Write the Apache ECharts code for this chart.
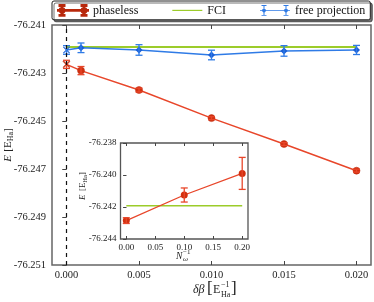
<!DOCTYPE html>
<html><head><meta charset="utf-8">
<script src="https://cdn.jsdelivr.net/npm/echarts@6/dist/echarts.min.js"></script>
<style>html,body{margin:0;padding:0;background:#fff}#c{width:374px;height:302px}</style>
</head><body><div id="c"></div>
<script>
// ---- data ----
var dBeta = [0, 0.001, 0.005, 0.010, 0.015, 0.020];
var phaselessE = [-76.24264, -76.2429, -76.24371, -76.24488, -76.24596, -76.24707];
var phaselessErr = [0.00017, 0.00017, 0.00008, 0.00006, 0.00006, 0.00006];
var freeProjE = [-76.24204, -76.24195, -76.24204, -76.24225, -76.24208, -76.24204];
var freeProjErr = [0.00018, 0.0002, 0.00022, 0.0002, 0.00022, 0.00019];
var fciE = -76.24192;
var fciX = [0, 0.020];
var invN = [0, 0.10, 0.20];
var insetE = [-76.24285, -76.24125, -76.2399];
var insetErr = [0.00018, 0.00044, 0.001];
var insetFciX = [0, 0.20];
var mainXTicks = [0, 0.005, 0.010, 0.015, 0.020];
var mainYTicks = [-76.251, -76.249, -76.247, -76.245, -76.243, -76.241];
var insetXTicks = [0, 0.05, 0.10, 0.15, 0.20];
var insetYTicks = [-76.244, -76.242, -76.240, -76.238];

var RED = '#e8462a', RED_M = '#d2300f', BLUE = '#2f7be6', BLUE_M = '#1a5fd6', GREEN = '#9ccc2a';
var FONT = 'Liberation Serif';
var crossPath = 'path://M1,0L5,4L9,0L10,1L6,5L10,9L9,10L5,6L1,10L0,9L4,5L0,1Z';

function pts(xs, ys){ return xs.map(function(x,i){return [x, ys[i]];}); }
function errPts(xs, ys, es){ return xs.map(function(x,i){return [x, ys[i], es[i]];}); }
function errSeries(name, data, color, xi, yi, cap, z){
  return {
    type:'custom', name:name, xAxisIndex:xi, yAxisIndex:yi, z:z, silent:true,
    data:data, encode:{x:0,y:1},
    renderItem:function(params, api){
      var x=api.value(0), y=api.value(1), e=api.value(2);
      var a=api.coord([x,y-e]), b=api.coord([x,y+e]);
      var st={stroke:color, lineWidth:1.3};
      return {type:'group', children:[
        {type:'line', shape:{x1:a[0],y1:a[1],x2:b[0],y2:b[1]}, style:st},
        {type:'line', shape:{x1:a[0]-cap,y1:a[1],x2:a[0]+cap,y2:a[1]}, style:st},
        {type:'line', shape:{x1:b[0]-cap,y1:b[1],x2:b[0]+cap,y2:b[1]}, style:st}
      ]};
    }
  };
}
function symFor(val, normal){ return val[0]===0 ? crossPath : normal; }

function legendIcon(circle){
  var p = 'M0,5.6H30V6.4H0Z';
  [4,26].forEach(function(cx){
    p += 'M'+(cx-0.5)+',1H'+(cx+0.5)+'V11H'+(cx-0.5)+'Z';
    p += 'M'+(cx-2.5)+',0.6H'+(cx+2.5)+'V1.5H'+(cx-2.5)+'Z';
    p += 'M'+(cx-2.5)+',10.5H'+(cx+2.5)+'V11.4H'+(cx-2.5)+'Z';
    if (circle) p += 'M'+(cx-2.4)+',6A2.4,2.4 0 1,0 '+(cx+2.4)+',6A2.4,2.4 0 1,0 '+(cx-2.4)+',6Z';
    else p += 'M'+cx+',3.2L'+(cx+2.4)+',6L'+cx+',8.8L'+(cx-2.4)+',6Z';
  });
  return 'path://'+p;
}

function fmt3(v){ return (+v).toFixed(3); }
function fmt2(v){ return (+v).toFixed(2); }

var chart = echarts.init(document.getElementById('c'), null, {renderer:'canvas'});
chart.setOption({
  animation:false,
  backgroundColor:'#fff',
  legend:{
    left:52, top:1, width:330, orient:'horizontal', itemWidth:30, itemHeight:12, itemGap:34,
    padding:[3,5,3,5], backgroundColor:'#fff', borderColor:'#222', borderWidth:1, borderRadius:2,
    shadowColor:'rgba(0,0,0,0.55)', shadowOffsetX:2, shadowOffsetY:2, shadowBlur:0,
    textStyle:{fontFamily:FONT, fontSize:12, color:'#111'},
    data:[
      {name:'phaseless', icon:legendIcon(true), itemStyle:{color:RED}},
      {name:'FCI', icon:'path://M0,5.4H30V6.6H0Z', itemStyle:{color:GREEN}},
      {name:'free projection', icon:legendIcon(false), itemStyle:{color:BLUE}}
    ]
  },
  grid:[
    {left:52, top:25, width:319, height:240, show:true, borderColor:'#666', borderWidth:1.5, backgroundColor:'#fff'},
    {left:120.5, top:143, width:127.5, height:96, show:true, borderColor:'#555', borderWidth:1.3, backgroundColor:'#fff', z:10}
  ],
  xAxis:[
    {type:'value', gridIndex:0, min:-0.001, max:0.021, position:'bottom', splitLine:{show:false},
     axisLine:{show:false}, axisTick:{inside:true, length:4, customValues:mainXTicks, lineStyle:{color:'#444'}},
     axisLabel:{customValues:mainXTicks, formatter:fmt3, margin:5, fontFamily:FONT, fontSize:10.5, color:'#222'}},
    {type:'value', gridIndex:0, min:-0.001, max:0.021, position:'top', splitLine:{show:false},
     axisLine:{show:false}, axisTick:{inside:true, length:4, customValues:mainXTicks, lineStyle:{color:'#444'}}, axisLabel:{show:false}},
    {type:'value', gridIndex:1, min:-0.01, max:0.21, position:'bottom', splitLine:{show:false}, z:11,
     axisLine:{show:false}, axisTick:{inside:true, length:3, customValues:insetXTicks, lineStyle:{color:'#444'}},
     axisLabel:{customValues:insetXTicks, formatter:fmt2, margin:4, fontFamily:FONT, fontSize:9, color:'#222'}},
    {type:'value', gridIndex:1, min:-0.01, max:0.21, position:'top', splitLine:{show:false}, z:11,
     axisLine:{show:false}, axisTick:{inside:true, length:3, customValues:insetXTicks, lineStyle:{color:'#444'}}, axisLabel:{show:false}}
  ],
  yAxis:[
    {type:'value', gridIndex:0, min:-76.251, max:-76.241, position:'left', splitLine:{show:false},
     axisLine:{show:false}, axisTick:{inside:false, length:4, customValues:mainYTicks, lineStyle:{color:'#444'}},
     axisLabel:{customValues:mainYTicks, formatter:fmt3, margin:6, fontFamily:FONT, fontSize:10.5, color:'#222'}},
    {type:'value', gridIndex:0, min:-76.251, max:-76.241, position:'right', splitLine:{show:false},
     axisLine:{show:false}, axisTick:{inside:true, length:4, customValues:mainYTicks, lineStyle:{color:'#444'}}, axisLabel:{show:false}},
    {type:'value', gridIndex:1, min:-76.244, max:-76.238, position:'left', splitLine:{show:false}, z:11,
     axisLine:{show:false}, axisTick:{inside:false, length:3, customValues:insetYTicks, lineStyle:{color:'#444'}},
     axisLabel:{customValues:insetYTicks, formatter:fmt3, margin:4, fontFamily:FONT, fontSize:9, color:'#222'}},
    {type:'value', gridIndex:1, min:-76.244, max:-76.238, position:'right', splitLine:{show:false}, z:11,
     axisLine:{show:false}, axisTick:{inside:true, length:3, customValues:insetYTicks, lineStyle:{color:'#444'}}, axisLabel:{show:false}}
  ],
  series:[
    {type:'line', name:'FCI', xAxisIndex:0, yAxisIndex:0, data:pts(fciX, [fciE, fciE]), symbol:'none',
     lineStyle:{color:GREEN, width:2}, itemStyle:{color:GREEN}, z:2,
     markLine:{silent:true, symbol:'none', label:{show:false}, lineStyle:{type:[4,4], color:'#111', width:1.2}, data:[{xAxis:0}]}},
    {type:'line', name:'free projection', xAxisIndex:0, yAxisIndex:0, data:pts(dBeta, freeProjE),
     symbol:function(v){return symFor(v,'diamond');}, symbolSize:7,
     lineStyle:{color:BLUE, width:1.5}, itemStyle:{color:BLUE_M}, z:3},
    errSeries('free projection', errPts(dBeta, freeProjE, freeProjErr), BLUE, 0, 0, 3.5, 4),
    {type:'line', name:'phaseless', xAxisIndex:0, yAxisIndex:0, data:pts(dBeta, phaselessE),
     symbol:function(v){return symFor(v,'circle');}, symbolSize:7,
     lineStyle:{color:RED, width:1.5}, itemStyle:{color:RED_M, borderColor:'#b8280c', borderWidth:0.5}, z:3},
    errSeries('phaseless', errPts(dBeta, phaselessE, phaselessErr), RED, 0, 0, 3.5, 4),
    // inset
    {type:'line', name:'FCI inset', xAxisIndex:2, yAxisIndex:2, data:pts(insetFciX, [fciE, fciE]), symbol:'none',
     lineStyle:{color:GREEN, width:1.6}, z:12,
     markLine:{silent:true, symbol:'none', label:{show:false}, lineStyle:{type:[4,4], color:'#111', width:1.1}, data:[{xAxis:0}]}},
    {type:'line', name:'phaseless inset', xAxisIndex:2, yAxisIndex:2, data:pts(invN, insetE),
     symbol:'circle', symbolSize:7, lineStyle:{color:RED, width:1.3}, itemStyle:{color:RED_M}, z:13},
    errSeries('phaseless inset', errPts(invN, insetE, insetErr), RED, 2, 2, 3.5, 14)
  ],
  graphic:[
    {type:'text', x:8, y:145, rotation:Math.PI/2, z:20,
     style:{text:'{i|E} {n|[E}{s|Ha}{n|]}', align:'center', verticalAlign:'middle',
       rich:{i:{fontFamily:FONT, fontStyle:'italic', fontSize:11, fill:'#222'}, n:{fontFamily:FONT, fontSize:11, fill:'#222'},
             s:{fontFamily:FONT, fontSize:8, fill:'#222', padding:[5,0,0,0]}}}},
    {type:'text', x:83, y:186, rotation:Math.PI/2, z:20,
     style:{text:'{i|E} {n|[E}{s|Ha}{n|]}', align:'center', verticalAlign:'middle',
       rich:{i:{fontFamily:FONT, fontStyle:'italic', fontSize:9, fill:'#222'}, n:{fontFamily:FONT, fontSize:9, fill:'#222'},
             s:{fontFamily:FONT, fontSize:6.5, fill:'#222', padding:[4,0,0,0]}}}},
    {type:'text', x:176, y:251, z:20, style:{text:'N', fontFamily:FONT, fontStyle:'italic', fontSize:9.5, fill:'#222'}},
    {type:'text', x:183, y:256, z:20, style:{text:'ω', fontFamily:FONT, fontStyle:'italic', fontSize:7, fill:'#222'}},
    {type:'text', x:183, y:249, z:20, style:{text:'−1', fontFamily:FONT, fontSize:7, fill:'#222'}},
    {type:'text', x:193, y:284, z:20, style:{text:'δβ', fontFamily:FONT, fontStyle:'italic', fontSize:12, fill:'#222'}},
    {type:'text', x:207, y:280, z:20, style:{text:'[', fontFamily:FONT, fontSize:17, fill:'#222'}},
    {type:'text', x:213, y:284, z:20, style:{text:'E', fontFamily:FONT, fontSize:12, fill:'#222'}},
    {type:'text', x:221, y:281, z:20, style:{text:'−1', fontFamily:FONT, fontSize:8, fill:'#222'}},
    {type:'text', x:221, y:291, z:20, style:{text:'Ha', fontFamily:FONT, fontSize:8, fill:'#222'}},
    {type:'text', x:231, y:280, z:20, style:{text:']', fontFamily:FONT, fontSize:17, fill:'#222'}}
  ]
});
</script></body></html>
